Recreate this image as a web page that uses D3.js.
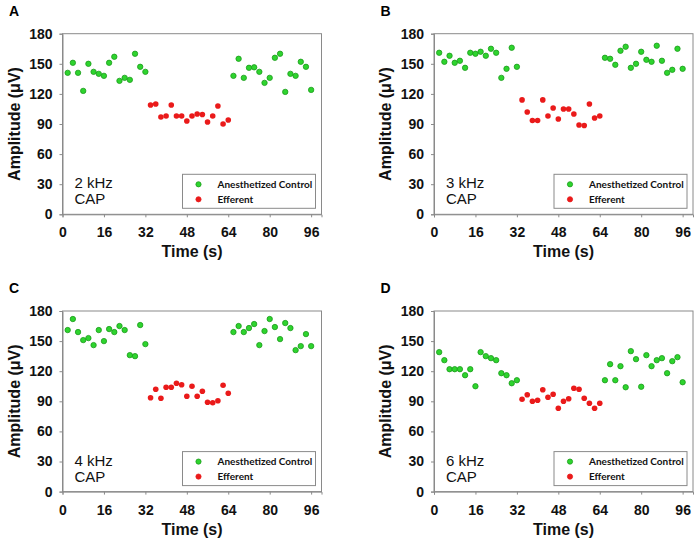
<!DOCTYPE html>
<html>
<head>
<meta charset="utf-8">
<script src="https://cdn.jsdelivr.net/npm/d3@7"></script>
<style>
  html, body { margin: 0; padding: 0; background: #fff; }
  svg { display: block; }
</style>
</head>
<body>
<svg id="chart" width="698" height="542"></svg>
<script>
// ---- data ----
const panelLabels = ["A", "B", "C", "D"];
const freqLabels = ["2 kHz", "3 kHz", "4 kHz", "6 kHz"];
const seriesNames = ["Anesthetized Control", "Efferent"];
const xTicks = [0, 16, 32, 48, 64, 80, 96];
const yTicks = [0, 30, 60, 90, 120, 150, 180];
const timesPre = [2, 4, 6, 8, 10, 12, 14, 16, 18, 20, 22, 24, 26, 28, 30, 32];
const timesEff = [34, 36, 38, 40, 42, 44, 46, 48, 50, 52, 54, 56, 58, 60, 62, 64];
const timesPost = [66, 68, 70, 72, 74, 76, 78, 80, 82, 84, 86, 88, 90, 92, 94, 96];

const ctrlPreA = [141, 151, 141, 123, 150, 142, 140, 138, 151, 157, 133, 136, 134, 160, 147, 142];
const effA = [109, 110, 97, 98, 109, 98, 98, 93, 98, 100, 99.5, 92, 98, 108, 90, 94];
const ctrlPostA = [138, 155, 136, 146, 146.5, 142, 131, 136, 156, 160, 122, 140, 138, 152, 147, 124];

const ctrlPreB = [161, 152, 158, 151, 153, 146, 161, 160, 162, 158, 165, 161, 136, 145, 166, 147];
const effB = [114, 102, 93.5, 93.5, 114, 98, 106, 95, 105, 105, 100, 89, 88.5, 110, 96, 98];
const ctrlPostB = [156, 155, 149, 163, 167, 146, 150, 162, 154, 152, 168, 153, 141, 144, 165, 145];

const ctrlPreC = [161, 172, 159, 151, 153, 146, 161, 150, 162, 159, 165, 161, 136, 135, 166, 147];
const effC = [93.5, 102, 93, 104, 104, 108, 106.5, 95, 105, 95, 100, 89, 88.5, 90.5, 106, 98];
const ctrlPostC = [159, 165, 159, 163, 167, 146, 160, 172, 164, 152, 168, 163, 141, 145, 157, 145];

const ctrlPreD = [139, 131, 122, 122, 122, 116, 122, 105, 139, 135, 133, 131, 118, 116, 108, 111];
const effD = [92, 96.5, 90, 91, 101.5, 94, 97, 83, 90, 92.5, 103, 102, 93, 88, 83, 88];
const ctrlPostD = [111, 127, 111, 125, 104, 140, 132, 104.5, 136, 125, 131, 133, 118, 130, 134, 109];

const ctrlPre = [ctrlPreA, ctrlPreB, ctrlPreC, ctrlPreD];
const effVals = [effA, effB, effC, effD];
const ctrlPost = [ctrlPostA, ctrlPostB, ctrlPostC, ctrlPostD];

// ---- layout ----
const svg = d3.select("#chart");
const W = 259, H = 180.6;
const origins = [[62.5, 33.7], [434, 33.7], [62.5, 311], [434, 311]];
const green = "#2ed42e", greenStroke = "#1a9a1a", red = "#ea1a1a";
const boxColor = "#8a8a8a";
const FONT = "Liberation Sans, Arial, sans-serif";

panelLabels.forEach((lab, i) => {
  const [ox, oy] = origins[i];
  const g = svg.append("g").attr("transform", `translate(${ox},${oy})`);
  const x = d3.scaleLinear().domain([0, 100]).range([0, W]);
  const y = d3.scaleLinear().domain([0, 180]).range([H, 0]);

  // panel letter
  svg.append("text").attr("x", ox - 53.5).attr("y", oy - 18)
    .attr("font-family", FONT)
    .attr("font-weight", "bold").attr("font-size", 14).text(lab);

  // box
  g.append("rect").attr("x", 0).attr("y", 0).attr("width", W).attr("height", H)
    .attr("fill", "none").attr("stroke", boxColor).attr("stroke-width", 1);

  // axes
  const xAxis = d3.axisBottom(x).tickValues(xTicks).tickSize(3).tickPadding(10);
  const yAxis = d3.axisLeft(y).tickValues(yTicks).tickSize(3).tickPadding(7);
  const gx = g.append("g").attr("transform", `translate(0,${H})`).call(xAxis);
  const gy = g.append("g").call(yAxis);
  [gx, gy].forEach(a => {
    a.select(".domain").attr("stroke", boxColor);
    a.selectAll(".tick line").attr("stroke", boxColor);
    a.selectAll(".tick text")
      .attr("font-family", FONT)
      .attr("font-weight", "bold").attr("font-size", 14).attr("fill", "#111");
  });

  // axis titles
  g.append("text").attr("x", W / 2).attr("y", H + 43).attr("text-anchor", "middle")
    .attr("font-family", FONT)
    .attr("font-weight", "bold").attr("font-size", 16).attr("fill", "#111").text("Time (s)");
  g.append("text").attr("transform", `translate(-43,${H / 2}) rotate(-90)`)
    .attr("text-anchor", "middle")
    .attr("font-family", FONT)
    .attr("font-weight", "bold").attr("font-size", 16).attr("fill", "#111").text("Amplitude (μV)");

  // annotation
  g.append("text").attr("x", 12).attr("y", H - 26)
    .attr("font-family", FONT)
    .attr("font-size", 15).attr("fill", "#111").text(freqLabels[i]);
  g.append("text").attr("x", 12).attr("y", H - 10)
    .attr("font-family", FONT)
    .attr("font-size", 15).attr("fill", "#111").text("CAP");

  // legend
  const lx = 120, ly = H - 40, lw = W - 126, lh = 34;
  const lg = g.append("g");
  lg.append("rect").attr("x", lx).attr("y", ly).attr("width", lw).attr("height", lh)
    .attr("fill", "#fff").attr("stroke", boxColor).attr("stroke-width", 1);
  [[green, greenStroke], [red, red]].forEach((c, k) => {
    const cy = ly + 10 + k * 15;
    lg.append("circle").attr("cx", lx + 16).attr("cy", cy).attr("r", 2.6)
      .attr("fill", c[0]).attr("stroke", c[1]).attr("stroke-width", 0.8);
    lg.append("text").attr("x", lx + 35).attr("y", cy + 3.5)
      .attr("font-family", "Lato, sans-serif").attr("font-weight", "bold")
      .attr("font-size", 10).attr("fill", "#111").text(seriesNames[k]);
  });

  // points
  const ctrl = timesPre.map((t, j) => [t, ctrlPre[i][j]])
    .concat(timesPost.map((t, j) => [t, ctrlPost[i][j]]));
  const eff = timesEff.map((t, j) => [t, effVals[i][j]]);
  g.selectAll(".ctrl").data(ctrl).enter().append("circle")
    .attr("cx", d => x(d[0])).attr("cy", d => y(d[1])).attr("r", 2.7)
    .attr("fill", green).attr("stroke", greenStroke).attr("stroke-width", 0.8);
  g.selectAll(".eff").data(eff).enter().append("circle")
    .attr("cx", d => x(d[0])).attr("cy", d => y(d[1])).attr("r", 2.8)
    .attr("fill", red);
});
</script>
</body>
</html>
